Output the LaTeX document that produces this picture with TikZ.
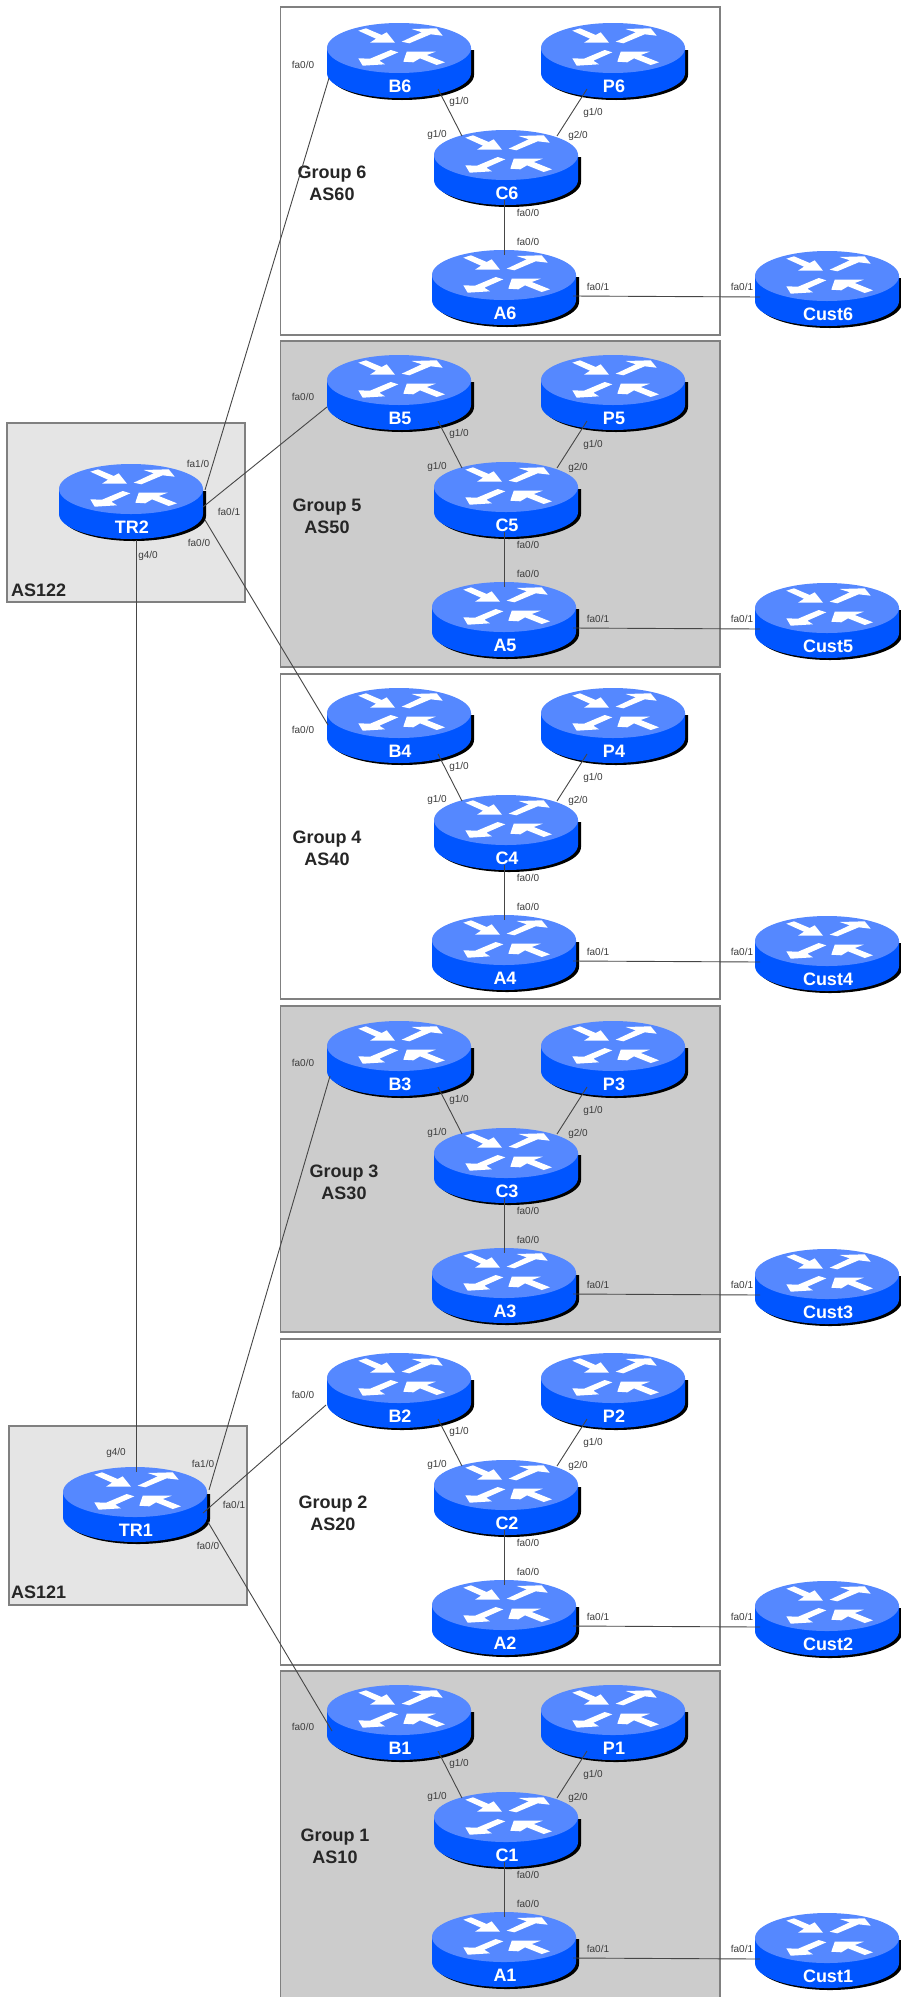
\documentclass[tikz,border=0pt]{standalone}
\usepackage{fontspec}
\setmainfont{Liberation Sans}
\definecolor{rtop}{RGB}{85,136,255}
\definecolor{rside}{RGB}{0,85,255}
\definecolor{boxline}{RGB}{128,128,128}
\definecolor{greybox}{RGB}{204,204,204}
\definecolor{lightbox}{RGB}{229,229,229}
\definecolor{linkc}{RGB}{70,70,70}
\definecolor{portc}{RGB}{60,60,60}
\tikzset{
  groupbox/.style={draw=boxline,line width=1.3pt,rectangle,inner sep=0pt,outer sep=0pt,anchor=north west},
  routernode/.style={rectangle,inner sep=0pt,minimum width=146pt,minimum height=76pt,text=white,font=\fontsize{18}{20}\selectfont\bfseries},
  link/.style={draw=linkc,line width=0.9pt},
  port/.style={inner sep=0pt,text=portc,font=\fontsize{10}{11}\selectfont},
  grouplabel/.style={inner sep=0pt,align=center,text=black!85,font=\fontsize{18}{22}\selectfont\bfseries},
  aslabel/.style={inner sep=0pt,anchor=west,text=black!85,font=\fontsize{18}{20}\selectfont\bfseries},
  arrowshape/.style={fill=white,draw=none}
}
\newcommand{\routerart}[3]{%
  \begin{scope}[shift={(#1,#2)}]
    \fill[black] (-70,-11) -- (74,-11) -- (74,14) arc[start angle=0,end angle=180,x radius=72,y radius=25] -- cycle;
    \fill[rside] (-73,-13) -- (71,-13) -- (71,12) arc[start angle=0,end angle=180,x radius=72,y radius=25] -- cycle;
    \fill[rtop] (-1,-13) ellipse[x radius=72,y radius=25];
    \fill[arrowshape] (-41.7,-30.3)--(-34,-32.7)--(-18.3,-26)--(-13.3,-28.7)--(-5,-18.3)--(-30,-18.3)--(-24,-22.3)--cycle;
    \fill[arrowshape] (1.7,-19.3)--(21.7,-28.7)--(11.7,-32)--(36.7,-32.7)--(42.7,-25.3)--(30.7,-26.7)--(9.3,-17.7)--cycle;
    \fill[arrowshape] (-9.3,-11)--(-1.7,-8.7)--(-20.7,-0.3)--(-15,3.3)--(-37.3,4.7)--(-41.7,-2.7)--(-30,-2.3)--cycle;
    \fill[arrowshape] (3.3,0.7)--(6.7,-9.3)--(35.7,-9.3)--(26.7,-6)--(45,1.3)--(36.7,4)--(20,-2.7)--(13.3,1.3)--cycle;
  \end{scope}%
  \node[routernode] (#3) at (#1,#2) {\raisebox{-31.5pt}[0pt][0pt]{#3}};%
}
% #1 group no, #2 y offset, #3 fill, #4 box top, #5 box bottom, #6 label x, #7 label y
\newcommand{\grp}[7]{%
  \node[groupbox,fill=#3,minimum width=439.5pt,minimum height=#5pt-#4pt] (box#1) at (280.5,#4) {};
  \routerart{400}{61+#2}{B#1}
  \routerart{614}{61+#2}{P#1}
  \routerart{507}{168+#2}{C#1}
  \routerart{505}{288+#2}{A#1}
  \routerart{828}{289+#2}{Cust#1}
  \draw[link] ([shift={(38,28)}]B#1.center) -- ([shift={(-45,-32)}]C#1.center);
  \draw[link] ([shift={(-27,28)}]P#1.center) -- ([shift={(50,-32)}]C#1.center);
  \draw[link] ([shift={(-3,32)}]C#1.center) -- ([shift={(-1,-33)}]A#1.center);
  \draw[link] ([shift={(68,8)}]A#1.center) -- ([shift={(-68,8)}]Cust#1.center);
  \node[port] (pb#1a) at ([shift={(-97,4)}]B#1.center) {fa0/0};
  \node[port] (pb#1b) at ([shift={(59,41)}]B#1.center) {g1/0};
  \node[port] (pc#1a) at ([shift={(-70,-33)}]C#1.center) {g1/0};
  \node[port] (pp#1a) at ([shift={(-21,52)}]P#1.center) {g1/0};
  \node[port] (pc#1b) at ([shift={(71,-32)}]C#1.center) {g2/0};
  \node[port] (pc#1c) at ([shift={(21,45)}]C#1.center) {fa0/0};
  \node[port] (pa#1a) at ([shift={(23,-46)}]A#1.center) {fa0/0};
  \node[port] (pa#1b) at ([shift={(93,-1)}]A#1.center) {fa0/1};
  \node[port] (pu#1a) at ([shift={(-86,-2)}]Cust#1.center) {fa0/1};
  \node[grouplabel] (glabel#1) at (#6,#7) {Group #1\\AS#10};
}
\begin{document}
\begin{tikzpicture}[x=1pt,y=-1pt]
\path[use as bounding box] (0,0) rectangle (901,1997);
\clip (0,0) rectangle (901,1997);
\fill[white] (0,0) rectangle (901,1997);
\node[groupbox,fill=lightbox,minimum width=238pt,minimum height=179pt] (as122) at (7,423) {};
\node[groupbox,fill=lightbox,minimum width=238pt,minimum height=179pt] (as121) at (9,1426) {};
\grp{6}{0}{white}{7}{335}{332}{183}
\grp{5}{332}{greybox}{341}{667}{327}{516}
\grp{4}{665}{white}{674}{999}{327}{848}
\grp{3}{998}{greybox}{1006}{1332}{344}{1182}
\grp{2}{1330}{white}{1339}{1665}{333}{1513}
\grp{1}{1662}{greybox}{1671}{2012}{335}{1846}
\routerart{132}{502}{TR2}
\routerart{136}{1505}{TR1}
\draw[link] ([shift={(4,38)}]TR2.center) -- ([shift={(0,-33)}]TR1.center);
\draw[link] ([shift={(73,-12)}]TR2.center) -- ([shift={(-71,17)}]B6.center);
\draw[link] ([shift={(71,5)}]TR2.center) -- ([shift={(-73,14)}]B5.center);
\draw[link] ([shift={(73,18)}]TR2.center) -- ([shift={(-72,-1)}]B4.center);
\draw[link] ([shift={(73,-15)}]TR1.center) -- ([shift={(-70,17)}]B3.center);
\draw[link] ([shift={(67,8)}]TR1.center) -- ([shift={(-74,14)}]B2.center);
\draw[link] ([shift={(72,17)}]TR1.center) -- ([shift={(-68,8)}]B1.center);
\node[port] (t2a) at (198,464) {fa1/0};
\node[port] (t2b) at (229,512) {fa0/1};
\node[port] (t2c) at (199,543) {fa0/0};
\node[port] (t2d) at (148,556) {g4/0};
\node[port] (t1a) at (116,1453) {g4/0};
\node[port] (t1b) at (203,1464) {fa1/0};
\node[port] (t1c) at (234,1505) {fa0/1};
\node[port] (t1d) at (208,1546) {fa0/0};
\node[aslabel] (asl122) at (11,590) {AS122};
\node[aslabel] (asl121) at (11,1592) {AS121};
\end{tikzpicture}
\end{document}
